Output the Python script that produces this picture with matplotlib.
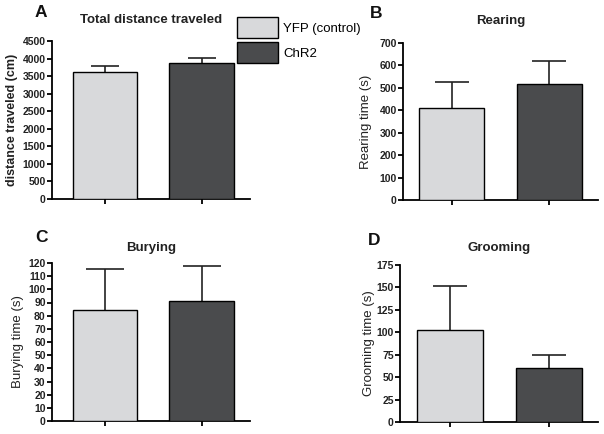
import numpy as np
import matplotlib
matplotlib.use('Agg')
import matplotlib.pyplot as plt
from matplotlib.patches import Patch

plt.rcParams['font.family'] = ['Liberation Sans', 'DejaVu Sans']

groups = ['YFP (control)', 'ChR2']
colors = ['#d8d9db', '#4a4b4d']

titles = ['Total distance traveled', 'Rearing', 'Burying', 'Grooming']
letters = ['A', 'B', 'C', 'D']
ylabels = ['distance traveled (cm)', 'Rearing time (s)',
           'Burying time (s)', 'Grooming time (s)']

distance_mean = [3610, 3880]
distance_sem = [170, 145]
rearing_mean = [410, 517]
rearing_sem = [116, 103]
burying_mean = [84.5, 91.5]
burying_sem = [31, 26]
grooming_mean = [102.5, 60]
grooming_sem = [49, 15]

means = [distance_mean, rearing_mean, burying_mean, grooming_mean]
sems = [distance_sem, rearing_sem, burying_sem, grooming_sem]
yticks = [np.arange(0, 4501, 500), np.arange(0, 701, 100),
          np.arange(0, 121, 10), np.arange(0, 176, 25)]

W, H = 604, 434
# axes boxes in pixels: left, right, top, bottom
boxes = [(52, 250, 41, 199), (403, 598, 43, 200),
         (52, 250, 263, 421), (400, 598, 265, 422)]
xlims = [(-0.55, 1.5), (-0.5, 1.5), (-0.55, 1.5), (-0.51, 1.5)]
caps = [10, 12, 14, 12]
bold_label = [True, False, False, False]
title_pads = [13, 14, 9, 10]
# right edge of the rotated y labels, pixels
label_x = [18, 372, 24, 375]
letter_pos = [(35, 17), (370, 18), (35, 242), (368, 245)]

fig = plt.figure(figsize=(W / 100, H / 100), dpi=100)

for k in range(4):
    l, r, t, b = boxes[k]
    ax = fig.add_axes([l / W, 1 - b / H, (r - l) / W, (b - t) / H])
    x = np.arange(len(groups))
    ax.bar(x, means[k], width=0.67, color=colors, edgecolor='black',
           linewidth=1.0, zorder=3)
    eb = ax.errorbar(x, means[k], yerr=[[0, 0], sems[k]], fmt='none',
                     ecolor='#222222', elinewidth=1.2, capsize=caps[k],
                     capthick=1.2, zorder=2)
    eb[1][0].set_visible(False)
    ax.set_xlim(*xlims[k])
    ax.set_ylim(0, yticks[k][-1])
    ax.set_yticks(yticks[k])
    ax.set_xticks(x)
    ax.set_xticklabels([])
    for s in ['top', 'right']:
        ax.spines[s].set_visible(False)
    for s in ['left', 'bottom']:
        ax.spines[s].set_linewidth(1.3)
    ax.tick_params(axis='both', direction='out', length=3.5, width=1.3,
                   pad=1)
    for lab in ax.get_yticklabels():
        lab.set_fontsize(7.5)
        lab.set_fontweight('bold')
        lab.set_color('#222222')
    ax.set_ylabel(ylabels[k], fontsize=9 if bold_label[k] else 9.5,
                  fontweight='bold' if bold_label[k] else 'normal',
                  color='#222222')
    ax.yaxis.set_label_coords(label_x[k] / W, 1 - (t + b) / 2 / H,
                              transform=fig.transFigure)
    ax.set_title(titles[k], fontsize=9.5, fontweight='bold',
                 pad=title_pads[k], color='#222222')
    lx, ly = letter_pos[k]
    fig.text(lx / W, 1 - ly / H, letters[k], fontsize=12.5,
             fontweight='bold', ha='left', va='baseline', color='#111111')

handles = [Patch(facecolor=c, edgecolor='black', linewidth=1.0)
           for c in colors]
fig.legend(handles, groups, loc='upper left',
           bbox_to_anchor=(237 / W, 1 - 17 / H), frameon=False,
           fontsize=9.5, handlelength=3.1, handleheight=2.05,
           labelspacing=0.35, handletextpad=0.4, borderpad=0,
           borderaxespad=0)

fig.savefig('out.png', dpi=100)
